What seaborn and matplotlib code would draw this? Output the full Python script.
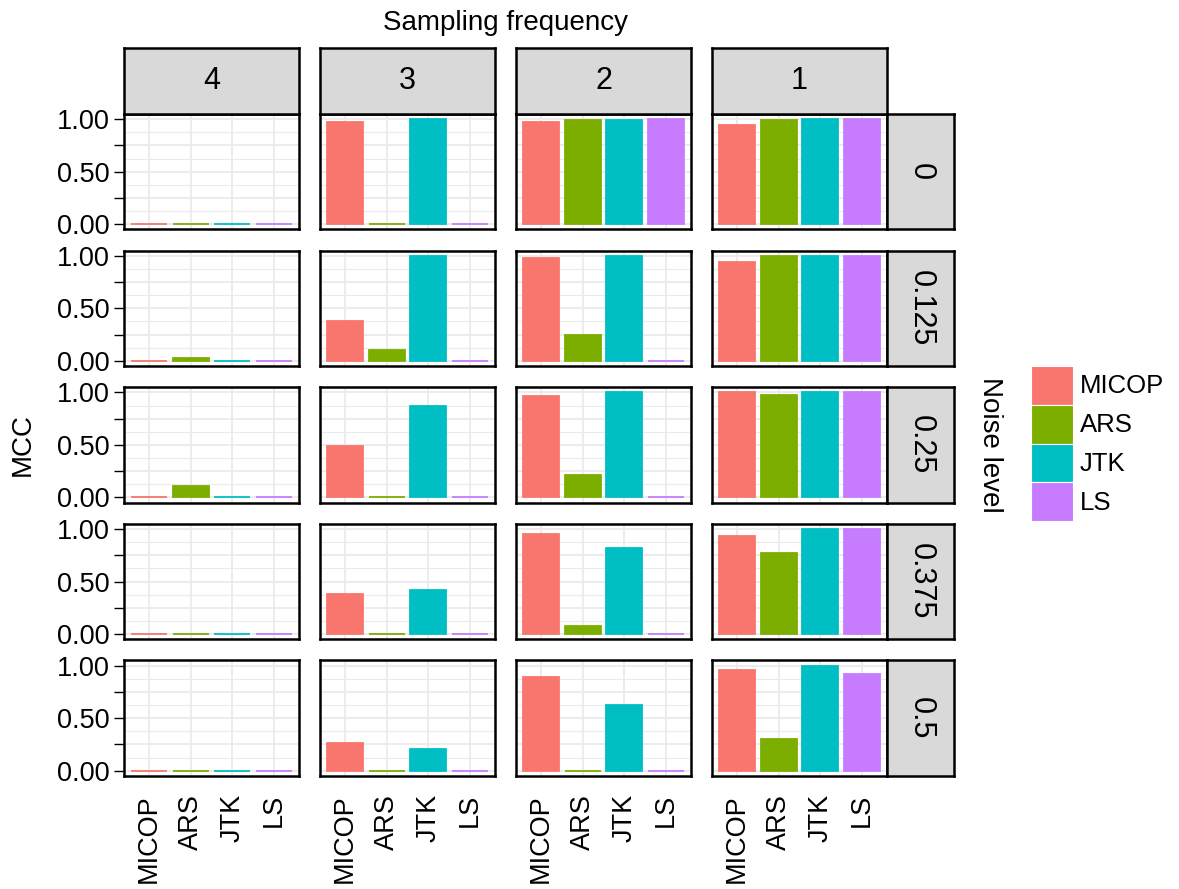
import numpy as np
import pandas as pd
import matplotlib
matplotlib.use("Agg")
import matplotlib.pyplot as plt
from matplotlib.patches import Patch
from matplotlib.ticker import MultipleLocator
import seaborn as sns

# ---------------- data ----------------
methods = ["MICOP", "ARS", "JTK", "LS"]
freqs = ["4", "3", "2", "1"]
noise_levels = ["0", "0.125", "0.25", "0.375", "0.5"]
colors = ["#F8766D", "#7CAE00", "#00BFC4", "#C77CFF"]

# rows = noise levels (0 .. 0.5), columns = methods
mcc_freq4 = [[0.0, 0.0, 0.0, 0.0],
             [0.0, 0.03, 0.0, 0.0],
             [0.0, 0.11, 0.0, 0.0],
             [0.0, 0.0, 0.0, 0.0],
             [0.0, 0.0, 0.0, 0.0]]
mcc_freq3 = [[0.97, 0.0, 1.0, 0.0],
             [0.38, 0.105, 0.995, 0.0],
             [0.49, 0.0, 0.87, 0.0],
             [0.38, 0.0, 0.42, 0.0],
             [0.26, 0.0, 0.21, 0.0]]
mcc_freq2 = [[0.97, 0.99, 0.99, 1.0],
             [0.98, 0.245, 0.995, 0.0],
             [0.97, 0.21, 1.0, 0.0],
             [0.95, 0.073, 0.82, 0.0],
             [0.89, 0.0, 0.63, 0.0]]
mcc_freq1 = [[0.945, 0.99, 1.0, 1.0],
             [0.94, 1.0, 1.0, 1.0],
             [1.0, 0.98, 1.0, 1.0],
             [0.93, 0.77, 1.0, 1.0],
             [0.96, 0.30, 1.0, 0.92]]

tables = {"4": mcc_freq4, "3": mcc_freq3, "2": mcc_freq2, "1": mcc_freq1}
records = []
for f in freqs:
    for i, nl in enumerate(noise_levels):
        for j, m in enumerate(methods):
            records.append({"freq": f, "noise": nl, "method": m, "MCC": tables[f][i][j]})
df = pd.DataFrame(records)
palette = dict(zip(methods, colors))

# ---------------- style ----------------
sns.set_theme(style="white")
plt.rcParams["font.family"] = ["Liberation Sans", "DejaVu Sans"]
plt.rcParams["text.color"] = "black"
plt.rcParams["axes.labelcolor"] = "black"
plt.rcParams["xtick.color"] = "black"
plt.rcParams["ytick.color"] = "black"

W, H = 1179, 889
fig = plt.figure(figsize=(W / 100, H / 100), dpi=100)

col_left = [124, 320, 516, 712]
pw = 175
row_top = [114 + i * 136.6 for i in range(5)]
ph = 115.5

def frac(x, y, w, h):
    return [x / W, 1 - (y + h) / H, w / W, h / H]

border_lw = 1.8
for r, nl in enumerate(noise_levels):
    for c, f in enumerate(freqs):
        ax = fig.add_axes(frac(col_left[c], row_top[r], pw, ph))
        sub = df[(df.freq == f) & (df.noise == nl)]
        sns.barplot(data=sub, x="method", y="MCC", hue="method", order=methods,
                    hue_order=methods, palette=palette, width=0.86, errorbar=None,
                    saturation=1, legend=False, ax=ax)
        for p in ax.patches:
            p.set_edgecolor(p.get_facecolor())
            p.set_linewidth(1.3)
        ax.set_xlim(-0.6, 3.6)
        ax.set_ylim(-0.05, 1.05)
        ax.set_yticks([0, 0.25, 0.5, 0.75, 1.0])
        ax.yaxis.set_minor_locator(MultipleLocator(0.125))
        ax.grid(True, which="major", color="#EBEBEB", lw=1.3)
        ax.grid(True, which="minor", axis="y", color="#EBEBEB", lw=0.8)
        ax.set_axisbelow(True)
        ax.set_facecolor("white")
        for s in ax.spines.values():
            s.set_visible(True)
            s.set_color("black")
            s.set_linewidth(border_lw)
        ax.set_xlabel("")
        ax.set_ylabel("")
        ax.tick_params(axis="x", length=0, pad=13, labelsize=19.5, rotation=90,
                       labelbottom=(r == len(noise_levels) - 1))
        ax.tick_params(axis="y", which="minor", length=0)
        if c == 0:
            ax.set_yticklabels(["0.00", "", "0.50", "", "1.00"])
            ax.tick_params(axis="y", which="major", length=7, width=1.0, pad=3,
                           labelsize=19.5, left=True, colors="black")
        else:
            ax.tick_params(axis="y", which="major", length=0, labelleft=False)
        if r == len(noise_levels) - 1:
            for t in ax.get_xticklabels():
                t.set_va("top")
                t.set_ha("center")

# column strips
for c, f in enumerate(freqs):
    sax = fig.add_axes(frac(col_left[c], 48, pw, 114 - 48))
    sax.set_facecolor("#D9D9D9")
    sax.set_xticks([]); sax.set_yticks([])
    for s in sax.spines.values():
        s.set_visible(True); s.set_color("black"); s.set_linewidth(border_lw)
    sax.text(0.5, 0.5, f, ha="center", va="center", fontsize=22, transform=sax.transAxes)

# row strips
for r, nl in enumerate(noise_levels):
    sax = fig.add_axes(frac(887, row_top[r], 954 - 887, ph))
    sax.set_facecolor("#D9D9D9")
    sax.set_xticks([]); sax.set_yticks([])
    for s in sax.spines.values():
        s.set_visible(True); s.set_color("black"); s.set_linewidth(border_lw)
    sax.text(0.5, 0.5, nl, ha="center", va="center", fontsize=22, rotation=270,
             transform=sax.transAxes)

# titles
fig.text(505.5 / W, 1 - 23 / H, "Sampling frequency", ha="center", va="center", fontsize=20)
fig.text(23 / W, 1 - 445 / H, "MCC", ha="center", va="center", rotation=90, fontsize=20)
fig.text(990 / W, 1 - 445 / H, "Noise level", ha="center", va="center", rotation=270, fontsize=20)

# legend
handles = [Patch(facecolor=col, edgecolor="white", linewidth=0.8, label=m)
           for m, col in zip(methods, colors)]
fig.legend(handles=handles, loc="center left", bbox_to_anchor=(1031 / W, 1 - 443.5 / H),
           frameon=False, fontsize=18.5, handlelength=1.65, handleheight=1.95,
           labelspacing=0.0, handletextpad=0.25, borderpad=0, borderaxespad=0)

fig.savefig("out.png", dpi=100)
